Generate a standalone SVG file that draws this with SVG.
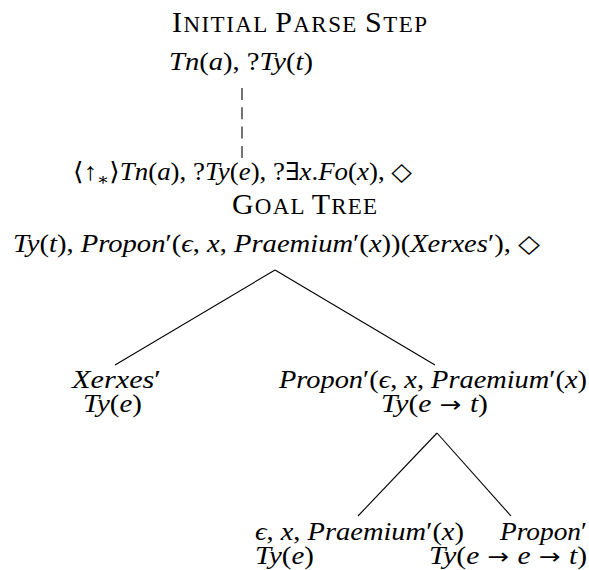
<svg xmlns="http://www.w3.org/2000/svg" width="589" height="570" viewBox="0 0 589 570">
<style>
.bg{fill:#fff}
.m{font-family:"Liberation Serif","DejaVu Serif",serif;font-size:25px;font-style:italic;fill:#000}
.r{font-style:normal}
.ar{font-style:normal;font-family:"DejaVu Sans",sans-serif;font-size:22px}
.sc{font-family:"Liberation Serif","DejaVu Serif",serif;fill:#000}
.B{font-size:30px}
.S{font-size:23px}
.edge{stroke:#000;stroke-width:1.1;fill:none}
.dash{stroke:#000;stroke-width:1.1;fill:none;stroke-dasharray:12 7.3}
</style>
<rect class="bg" x="0" y="0" width="589" height="570"/>
<g id="title-initial">
<text class="sc" x="172" y="32" textLength="255" lengthAdjust="spacing"><tspan class="B">I</tspan><tspan class="S">NITIAL </tspan><tspan class="B">P</tspan><tspan class="S">ARSE </tspan><tspan class="B">S</tspan><tspan class="S">TEP</tspan></text>
</g>
<g id="node-root-initial">
<text class="m" x="169" y="70" textLength="144" lengthAdjust="spacingAndGlyphs">Tn<tspan class="r">(</tspan>a<tspan class="r">), ?</tspan>Ty<tspan class="r">(</tspan>t<tspan class="r">)</tspan></text>
</g>
<g id="node-unfixed">
<text class="m" x="73" y="180" textLength="339" lengthAdjust="spacingAndGlyphs"><tspan class="r">⟨↑</tspan><tspan class="r" font-size="17" dy="5">∗</tspan><tspan class="r" dy="-5">⟩</tspan>Tn<tspan class="r">(</tspan>a<tspan class="r">), ?</tspan>Ty<tspan class="r">(</tspan>e<tspan class="r">), ?∃</tspan>x<tspan class="r">.</tspan>Fo<tspan class="r">(</tspan>x<tspan class="r">), ◇</tspan></text>
</g>
<g id="title-goal">
<text class="sc" x="232" y="214" textLength="145" lengthAdjust="spacing"><tspan class="B">G</tspan><tspan class="S">OAL </tspan><tspan class="B">T</tspan><tspan class="S">REE</tspan></text>
</g>
<g id="node-goal-root">
<text class="m" x="13" y="252" textLength="527" lengthAdjust="spacingAndGlyphs">Ty<tspan class="r">(</tspan>t<tspan class="r">), </tspan>Propon<tspan class="r">′(</tspan>ϵ<tspan class="r">, </tspan>x<tspan class="r">, </tspan>Praemium<tspan class="r">′(</tspan>x<tspan class="r">))(</tspan>Xerxes<tspan class="r">′), ◇</tspan></text>
</g>
<g id="node-xerxes">
<text class="m" x="72" y="388" textLength="89" lengthAdjust="spacingAndGlyphs">Xerxes<tspan class="r">′</tspan></text>
<text class="m" x="83" y="412" textLength="59" lengthAdjust="spacingAndGlyphs">Ty<tspan class="r">(</tspan>e<tspan class="r">)</tspan></text>
</g>
<g id="node-predicate">
<text class="m" x="279" y="388" textLength="308" lengthAdjust="spacingAndGlyphs">Propon<tspan class="r">′(</tspan>ϵ<tspan class="r">, </tspan>x<tspan class="r">, </tspan>Praemium<tspan class="r">′(</tspan>x<tspan class="r">)</tspan></text>
<text class="m" x="381" y="412" textLength="107" lengthAdjust="spacingAndGlyphs">Ty<tspan class="r">(</tspan>e<tspan class="ar"> → </tspan>t<tspan class="r">)</tspan></text>
</g>
<g id="node-object">
<text class="m" x="255" y="540" textLength="209" lengthAdjust="spacingAndGlyphs">ϵ<tspan class="r">, </tspan>x<tspan class="r">, </tspan>Praemium<tspan class="r">′(</tspan>x<tspan class="r">)</tspan></text>
<text class="m" x="255" y="564" textLength="59" lengthAdjust="spacingAndGlyphs">Ty<tspan class="r">(</tspan>e<tspan class="r">)</tspan></text>
</g>
<g id="node-verb">
<text class="m" x="500" y="540" textLength="87" lengthAdjust="spacingAndGlyphs">Propon<tspan class="r">′</tspan></text>
<text class="m" x="429" y="564" textLength="158" lengthAdjust="spacingAndGlyphs">Ty<tspan class="r">(</tspan>e<tspan class="ar"> → </tspan>e<tspan class="ar"> → </tspan>t<tspan class="r">)</tspan></text>
</g>
<g id="connectors">
<line class="dash" x1="242" y1="88" x2="242" y2="158"/>
<line class="edge" x1="275" y1="270" x2="115" y2="365"/>
<line class="edge" x1="275" y1="270" x2="435" y2="365"/>
<line class="edge" x1="437" y1="433" x2="358" y2="516"/>
<line class="edge" x1="437" y1="433" x2="511" y2="516"/>
</g>
</svg>
